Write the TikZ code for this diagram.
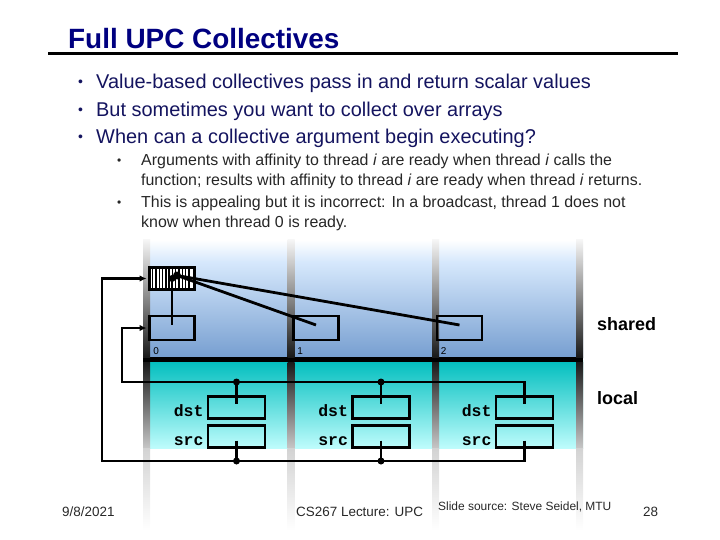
\documentclass[tikz,border=0pt]{standalone}
\usepackage{fontspec}
\setmainfont{Liberation Sans}
\setmonofont{Liberation Mono}
\usetikzlibrary{
	arrows.meta,
	calc,
	positioning
}
\definecolor{TitleBlue}{RGB}{0,0,128}
\definecolor{TextBlue}{RGB}{20,20,95}
\definecolor{ShareTop}{RGB}{214,232,252}
\definecolor{ShareBot}{RGB}{118,158,208}
\definecolor{LocalTop}{RGB}{0,190,190}
\definecolor{LocalBot}{RGB}{190,252,252}
\definecolor{FootGray}{RGB}{40,40,40}
\tikzset{
	cell/.style={draw, line width=2.8bp, minimum width=45bp, minimum height=24bp, inner sep=0pt},
	slot/.style={cell, minimum width=57bp, minimum height=22bp},
	wire/.style={line width=2.8bp},
	tip/.style={-{Latex[length=7bp,width=6.5bp]}, shorten >=1.5bp},
	varname/.style={font=\fontsize{16.5}{16}\ttfamily\bfseries, anchor=base east, inner sep=0pt},
	idx/.style={font=\fontsize{10}{10}\selectfont, anchor=north west, inner sep=0pt},
	bullet/.style={font=\fontsize{20}{24}\selectfont, text=TextBlue, anchor=base west, inner sep=0pt},
	subline/.style={font=\fontsize{16}{20}\selectfont, text=black!85, anchor=base west, inner sep=0pt},
	foot/.style={font=\fontsize{13.5}{14}\selectfont, text=FootGray, anchor=base west, inner sep=0pt},
	region/.style={font=\fontsize{18}{18}\selectfont\bfseries, anchor=base west, inner sep=0pt}
}
\begin{document}
\begin{tikzpicture}[x=1bp, y=-1bp]
	\useasboundingbox (0,0) rectangle (720,540);
	% title and bullets
	\node[font=\fontsize{28}{30}\selectfont\bfseries, text=TitleBlue, anchor=base west, inner sep=0pt] (title) at (68,49) {Full UPC Collectives};
	\draw[line width=3bp] (48,53.5) -- (678,53.5);
	\foreach \yy/\txt [count=\n] in {89/{Value-based collectives pass in and return scalar values},
		116.5/{But sometimes you want to collect over arrays},
		144/{When can a collective argument begin executing?}}
	{
		\node[bullet, font=\fontsize{14}{14}\selectfont] (dot\n) at (78,\yy-2) {\textbullet};
		\node[bullet] (b\n) at (96,\yy) {\txt};
	}
	\node[subline, font=\fontsize{12}{12}\selectfont] (sd1) at (117,165) {\textbullet};
	\node[subline, font=\fontsize{12}{12}\selectfont] (sd2) at (117,207) {\textbullet};
	\node[subline] (a1) at (141,166) {Arguments with affinity to thread \textit{i} are ready when thread \textit{i} calls the};
	\node[subline] (a2) at (141,186) {function; results with affinity to thread \textit{i} are ready when thread \textit{i} returns.};
	\node[subline] (a3) at (141,208) {This is appealing but it is incorrect: In a broadcast, thread 1 does not};
	\node[subline] (a4) at (141,228) {know when thread 0 is ready.};
	% memory regions
	\shade[top color=white, bottom color=ShareTop] (143,240) rectangle (583,262);
	\shade[top color=ShareTop, bottom color=ShareBot] (143,262) rectangle (583,358);
	\shade[top color=LocalTop, bottom color=LocalBot] (143,360) rectangle (583,448);
	\draw[line width=5bp] (143,359.5) -- (583,359.5);
	\foreach \x in {143,287.5,432,576}
	{
		\shade[top color=gray!8, middle color=gray!40, bottom color=black!90] (\x,240) rectangle ++(7,117);
		\shade[top color=black!90, bottom color=gray!45] (\x,362) rectangle ++(7,86);
		\shade[top color=gray!35, bottom color=white] (\x,448) rectangle ++(7,82);
	}
	\node[region] (shl) at (597,330) {shared};
	\node[region] (lcl) at (597,404) {local};
	% shared cells
	\node[cell] (s0) at (172,328) {};
	\node[cell] (s1) at (316,328) {};
	\node[cell] (s2) at (459.5,328) {};
	\foreach \i in {0,1,2}
	\node[idx, below right=6bp and 5bp of s\i.south west] (n\i) {\i};
	\node[cell, fill=white, minimum height=22bp] (h) at (172,278.5) {};
	\foreach \k in {0,...,11}
	\draw[line width=1.4bp] ($(h.north west)+(4.5+\k*3.3,0)$) -- ($(h.south west)+(4.5+\k*3.3,0)$);
	\coordinate (hs) at ($(h.center)+(5,-3)$);
	\draw[wire] (h.center) -- ($(s0.center)+(0,-3)$);
	\draw[wire] (hs) -- ($(s1.center)+(0,-3)$);
	\draw[wire] (hs) -- ($(s2.center)+(0,-3)$);
	\fill (h.center) circle (3.5bp);
	\fill (hs) circle (4bp);
	% local dst / src
	\foreach \i/\x in {0/236.5,1/381,2/524.5}
	{
		\node[slot] (d\i) at (\x,407.5) {};
		\node[slot] (r\i) at (\x,436.5) {};
		\node[varname] (dl\i) at ($(d\i.west)+(-3,8.5)$) {dst};
		\node[varname] (rl\i) at ($(r\i.west)+(-3,8.5)$) {src};
	}
	\coordinate (busD) at (122,382);
	\coordinate (busS) at (102,461);
	\draw[wire,tip] ($(d2.center)+(0,-4)$) |- (busD) |- (s0.west);
	\draw[wire,tip] ($(r2.center)+(0,4)$) |- (busS) |- (h.west);
	\foreach \i in {0,1}
	{
		\draw[wire] ($(d\i.center)+(0,-4)$) -- (d\i.center |- busD);
		\draw[wire] ($(r\i.center)+(0,4)$) -- (r\i.center |- busS);
		\fill (d\i.center |- busD) circle (3.5bp);
		\fill (r\i.center |- busS) circle (3.5bp);
	}
	% footer
	\node[foot] (date) at (62,516) {9/8/2021};
	\node[foot] (course) at (296,516) {CS267 Lecture: UPC};
	\node[foot, font=\fontsize{12}{12}\selectfont] (src) at (438,510) {Slide source: Steve Seidel, MTU};
	\node[foot] (page) at (643,516) {28};
\end{tikzpicture}
\end{document}
